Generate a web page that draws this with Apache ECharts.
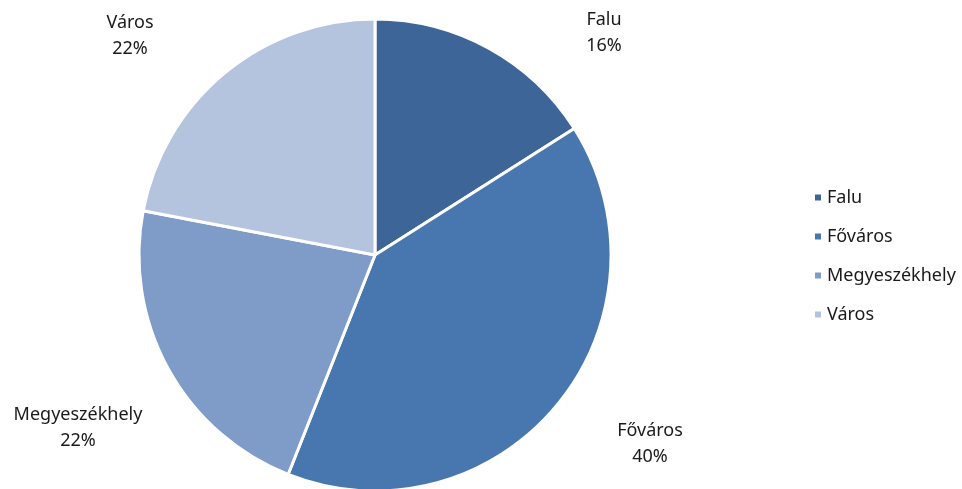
<!DOCTYPE html>
<html>
<head>
<meta charset="utf-8">
<script src="https://cdn.jsdelivr.net/npm/echarts@6/dist/echarts.min.js"></script>
<style>
html, body { margin: 0; padding: 0; background: #fff; }
#chart { width: 962px; height: 489px; }
</style>
</head>
<body>
<div id="chart"></div>
<script>
// településtípus szerinti megoszlás
var categories = ['Falu', 'Főváros', 'Megyeszékhely', 'Város'];
var shares = [16, 40, 22, 22];
var colors = ['#3d6597', '#4877b0', '#7e9cc7', '#b5c4de'];

var pieData = [];
for (var i = 0; i < categories.length; i++) {
	pieData.push({ name : categories[i], value : shares[i] });
}

// címkék helye (mint az eredeti ábrán, vezetővonal nélkül)
var labelPos = [ [ 604, 33 ], [ 650, 444 ], [ 78, 428 ], [ 130, 36 ] ];

var myChart = echarts.init(document.getElementById('chart'));
var option = {
	color : colors,
	animation : false,
	textStyle : { fontFamily : 'Noto Sans' },
	legend : {
		orient : 'vertical',
		left : 808,
		top : 180,
		icon : 'rect',
		itemWidth : 8,
		itemHeight : 8,
		itemGap : 14,
		textStyle : {
			fontSize : 18,
			lineHeight : 25,
			color : '#1a1a1a',
			fontFamily : 'Noto Sans'
		},
		data : categories
	},
	series : [ {
		type : 'pie',
		center : [ 375, 255 ],
		radius : 236,
		startAngle : 90,
		clockwise : true,
		itemStyle : { borderColor : '#fff', borderWidth : 3 },
		label : {
			show : true,
			position : 'outside',
			formatter : '{b}\n{c}%',
			fontSize : 18,
			lineHeight : 26,
			color : '#1a1a1a',
			fontFamily : 'Noto Sans',
			align : 'center',
			overflow : 'none'
		},
		labelLine : { show : false },
		labelLayout : function(params) {
			var p = labelPos[params.dataIndex];
			return { x : p[0], y : p[1], align : 'center', verticalAlign : 'middle' };
		},
		data : pieData
	} ]
};
myChart.setOption(option);
</script>
</body>
</html>
